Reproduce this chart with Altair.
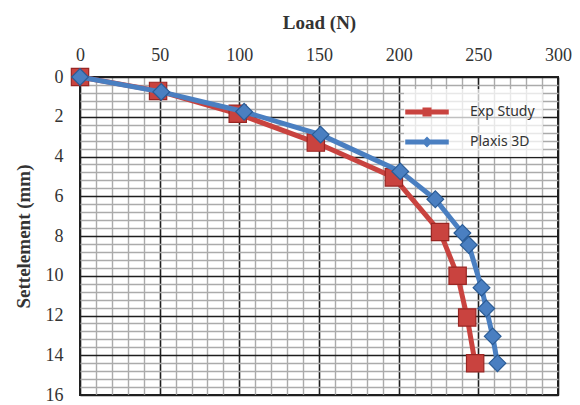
import altair as alt
import pandas as pd

# Data
exp_load = [0, 49, 99, 148, 197, 226, 237, 243, 248]
exp_settle = [0, 0.7, 1.85, 3.3, 5.05, 7.8, 10.0, 12.1, 14.4]
plx_load = [0, 51, 103, 151, 201, 223, 240, 244, 252, 255, 259, 262]
plx_settle = [0, 0.75, 1.75, 2.9, 4.75, 6.15, 7.85, 8.45, 10.6, 11.65, 13.05, 14.4]
series_names = ["Exp Study", "Plaxis 3D"]

x_ticks = list(range(0, 301, 10))
y_ticks = [round(i * 0.4, 1) for i in range(41)]

df = pd.DataFrame(
    {
        "load": exp_load + plx_load,
        "settle": exp_settle + plx_settle,
        "series": [series_names[0]] * len(exp_load) + [series_names[1]] * len(plx_load),
    }
)

RED = "#c9433f"
RED_DARK = "#9a2623"
BLUE = "#4a7fc1"
BLUE_DARK = "#2b5c96"
SERIF = "Liberation Serif"

X_MAJOR = "datum.value % 50 === 0"
Y_MAJOR = "abs(datum.value/2 - round(datum.value/2)) < 0.001"

x_enc = alt.X(
    "load:Q",
    scale=alt.Scale(domain=[0, 300], nice=False),
    axis=alt.Axis(
        orient="top",
        title="Load (N)",
        values=x_ticks,
        labelExpr=f"{X_MAJOR} ? format(datum.value, 'd') : ''",
        gridColor={"condition": {"test": X_MAJOR, "value": "#1e1e1e"}, "value": "#ababab"},
        gridWidth={"condition": {"test": X_MAJOR, "value": 1.6}, "value": 1.4},
        gridOpacity=1,
        ticks=False,
        tickSize=0,
        domain=False,
        labelFont=SERIF,
        labelFontSize=18,
        labelColor="#333",
        labelPadding=13,
        labelFlush=False,
        labelOverlap=False,
        titleFont=SERIF,
        titleFontSize=19,
        titleFontWeight="bold",
        titleColor="#333",
        titlePadding=14,
    ),
)
y_enc = alt.Y(
    "settle:Q",
    scale=alt.Scale(domain=[0, 16], nice=False, reverse=True),
    axis=alt.Axis(
        title="Settelement (mm)",
        values=y_ticks,
        labelExpr=f"{Y_MAJOR} ? format(datum.value, 'd') : ''",
        gridColor={"condition": {"test": Y_MAJOR, "value": "#1e1e1e"}, "value": "#ababab"},
        gridWidth={"condition": {"test": Y_MAJOR, "value": 1.6}, "value": 1.4},
        gridOpacity=1,
        ticks=False,
        tickSize=0,
        domain=False,
        labelFont=SERIF,
        labelFontSize=18,
        labelColor="#333",
        labelPadding=17,
        labelFlush=False,
        labelOverlap=False,
        titleFont=SERIF,
        titleFontSize=19,
        titleFontWeight="bold",
        titleColor="#333",
        titlePadding=12,
    ),
)

base = alt.Chart(df)

exp_line = base.transform_filter(alt.datum.series == series_names[0]).mark_line(
    color=RED, strokeWidth=5
).encode(x=x_enc, y=y_enc)
exp_pts = base.transform_filter(alt.datum.series == series_names[0]).mark_point(
    shape="square", filled=True, fill=RED, stroke=RED_DARK, strokeWidth=1.2, size=300, opacity=1
).encode(x=x_enc, y=y_enc)
plx_line = base.transform_filter(alt.datum.series == series_names[1]).mark_line(
    color=BLUE, strokeWidth=5
).encode(x=x_enc, y=y_enc)
plx_pts = base.transform_filter(alt.datum.series == series_names[1]).mark_point(
    shape="diamond", filled=True, fill=BLUE, stroke=BLUE_DARK, strokeWidth=1.2, size=280, opacity=1
).encode(x=x_enc, y=y_enc)

EXP_SYM = "M-1.45,-0.17L1.45,-0.17L1.45,0.17L-1.45,0.17Z M-0.3,-0.3L0.3,-0.3L0.3,0.3L-0.3,0.3Z"
PLX_SYM = "M-1.45,-0.17L1.45,-0.17L1.45,0.17L-1.45,0.17Z M0,-0.36L0.36,0L0,0.36L-0.36,0Z"

legend_layer = base.transform_filter("false").mark_point(filled=True, opacity=1).encode(
    x=x_enc,
    y=y_enc,
    color=alt.Color(
        "series:N",
        scale=alt.Scale(domain=series_names, range=[RED, BLUE]),
        legend=alt.Legend(
            title=None,
            orient="none",
            legendX=324,
            legendY=12,
            padding=8,
            fillColor="rgba(255,255,255,0.72)",
            symbolSize=900,
            symbolStrokeWidth=0,
            symbolOpacity=1,
            labelOffset=28,
            rowPadding=8,
            labelFont="Noto Sans",
            labelFontSize=14,
            labelColor="#333",
        ),
    ),
    shape=alt.Shape(
        "series:N",
        scale=alt.Scale(domain=series_names, range=[EXP_SYM, PLX_SYM]),
    ),
)

chart = (
    alt.layer(exp_line, exp_pts, plx_line, plx_pts, legend_layer)
    .properties(
        width=478,
        height=318,
        autosize=alt.AutoSizeParams(type="none"),
        padding={"left": 80, "top": 77, "right": 22, "bottom": 10},
        background="white",
    )
    .configure_view(stroke="#222", strokeWidth=2)
)

chart.save("out.html", embed_options={"renderer": "svg", "actions": False})
